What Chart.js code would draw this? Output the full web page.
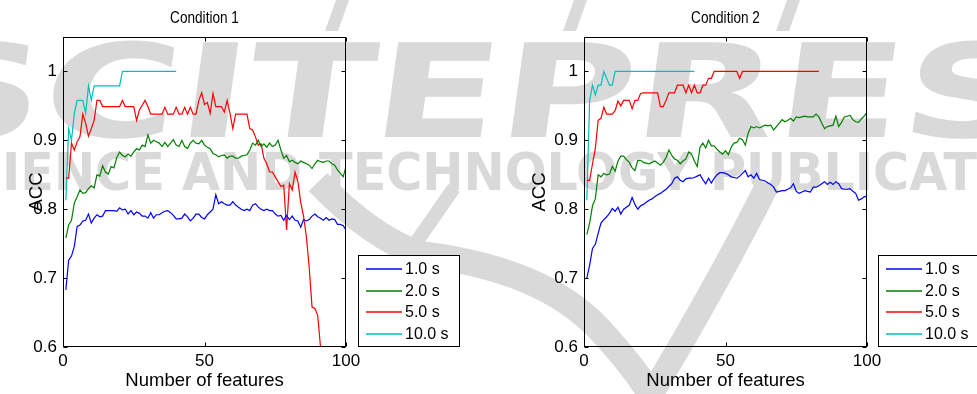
<!DOCTYPE html>
<html>
<head>
<meta charset="utf-8">
<script src="https://cdn.jsdelivr.net/npm/chart.js@4/dist/chart.umd.min.js"></script>
<style>
  html, body { margin: 0; padding: 0; background: #fff; }
  #wrap { position: relative; width: 977px; height: 394px; overflow: hidden; background: #fff; }
  canvas { position: absolute; top: 0; }
</style>
</head>
<body>
<div id="wrap">
  <canvas id="mark" width="977" height="394" style="left:0"></canvas>
  <canvas id="p1" width="520" height="394" style="left:0"></canvas>
  <canvas id="p2" width="456" height="394" style="left:521px"></canvas>
</div>
<script>
// Axis ticks
const xTicks = [0, 50, 100];
const yTicks = [0.6, 0.7, 0.8, 0.9, 1];

// Series names (window length)
const seriesLabels = ['1.0 s', '2.0 s', '5.0 s', '10.0 s'];

// Condition 1: accuracy for 1..N selected features
const cond1_1s = [
  .683,.726,.732,.746,.775,.777,.783,.784,.793,.780,
  .787,.792,.789,.790,.798,.798,.798,.798,.797,.802,
  .799,.800,.793,.798,.792,.796,.794,.790,.790,.787,
  .795,.787,.792,.792,.795,.797,.798,.795,.791,.786,
  .786,.787,.793,.789,.783,.787,.793,.793,.788,.786,
  .792,.796,.800,.821,.808,.811,.808,.806,.806,.811,
  .806,.803,.800,.798,.800,.798,.806,.808,.803,.800,
  .798,.800,.798,.798,.793,.790,.791,.784,.791,.785,
  .790,.784,.783,.774,.785,.783,.785,.790,.793,.789,
  .787,.784,.788,.784,.786,.785,.778,.778,.776,.770
];
const cond1_2s = [
  .758,.777,.784,.809,.818,.828,.823,.824,.830,.834,
  .831,.850,.848,.863,.854,.851,.862,.860,.875,.883,
  .878,.876,.880,.877,.883,.888,.886,.893,.891,.908,
  .896,.900,.898,.896,.891,.897,.891,.896,.901,.893,
  .891,.900,.891,.888,.896,.900,.896,.895,.900,.893,
  .890,.888,.881,.879,.876,.878,.879,.874,.877,.877,
  .874,.874,.877,.878,.879,.886,.896,.893,.900,.891,
  .895,.890,.896,.891,.893,.900,.886,.874,.878,.869,
  .871,.868,.866,.870,.868,.866,.864,.859,.866,.871,
  .869,.868,.870,.870,.866,.864,.857,.852,.847,.862
];
const cond1_5s = [
  .845,.845,.896,.886,.898,.905,.938,.925,.906,.917,
  .929,.958,.958,.949,.949,.949,.949,.949,.949,.949,
  .958,.949,.949,.949,.949,.929,.944,.951,.958,.949,
  .938,.938,.938,.938,.938,.948,.938,.938,.938,.948,
  .938,.938,.948,.938,.948,.938,.938,.958,.969,.952,
  .955,.939,.968,.949,.949,.949,.941,.958,.939,.917,
  .938,.938,.938,.938,.938,.917,.915,.905,.893,.895,
  .874,.866,.854,.854,.847,.840,.833,.835,.770,.837,
  .828,.854,.840,.810,.790,.760,.715,.658,.656,.646,
  .600,.560
];
const cond1_10s = [
  .813,.917,.900,.939,.958,.958,.958,.939,.979,.958,
  .979,.979,.979,.979,.979,.979,.979,.979,.979,.979,
  1,1,1,1,1,1,1,1,1,1,
  1,1,1,1,1,1,1,1,1,1
];

// Condition 2
const cond2_1s = [
  .700,.719,.743,.749,.765,.780,.785,.789,.794,.801,
  .797,.803,.793,.800,.803,.806,.817,.807,.800,.805,
  .807,.810,.813,.815,.818,.821,.823,.826,.829,.833,
  .837,.845,.847,.842,.840,.844,.845,.845,.846,.848,
  .850,.843,.837,.845,.838,.845,.850,.853,.853,.852,
  .850,.847,.846,.845,.848,.852,.856,.847,.850,.845,
  .852,.843,.842,.841,.838,.836,.832,.825,.826,.827,
  .827,.829,.831,.837,.826,.823,.825,.827,.826,.825,
  .832,.832,.834,.837,.840,.836,.839,.836,.840,.837,
  .830,.829,.829,.830,.826,.823,.813,.815,.818,.819
];
const cond2_2s = [
  .763,.780,.805,.815,.850,.847,.852,.850,.851,.862,
  .855,.870,.877,.877,.872,.868,.860,.856,.871,.871,
  .868,.867,.866,.868,.870,.867,.864,.868,.875,.886,
  .878,.873,.871,.866,.870,.873,.883,.880,.870,.862,
  .890,.896,.889,.900,.892,.892,.887,.883,.880,.885,
  .879,.890,.896,.897,.903,.901,.893,.910,.920,.918,
  .920,.918,.920,.922,.921,.922,.915,.920,.925,.930,
  .927,.929,.932,.928,.934,.933,.934,.935,.934,.934,
  .934,.938,.934,.925,.917,.920,.921,.922,.935,.920,
  .926,.934,.935,.936,.930,.927,.926,.931,.935,.941
];
const cond2_5s = [
  .842,.842,.866,.888,.929,.932,.948,.938,.938,.938,
  .943,.957,.950,.958,.958,.958,.946,.958,.958,.968,
  .969,.969,.969,.969,.969,.969,.949,.949,.958,.969,
  .969,.969,.980,.980,.980,.969,.980,.969,.980,.969,
  .969,.980,.980,.990,.990,1,1,1,1,1,
  1,1,1,1,.990,1,1,1,1,1,
  1,1,1,1,1,1,1,1,1,1,
  1,1,1,1,1,1,1,1,1,1,
  1,1,1
];
const cond2_10s = [
  .813,.958,.980,.966,.980,.980,1,.990,.980,.980,
  1,1,1,1,1,1,1,1,1,1,
  1,1,1,1,1,1,1,1,1,1,
  1,1,1,1,1,1,1,1,1
];

const lineColors = ['#0000ff', '#008000', '#ff0000', '#00bfbf'];
const FONT = '"Liberation Sans", Arial, Helvetica, sans-serif';

// light grey publisher mark behind both panels
function drawWatermark() {
  const g = document.getElementById('mark').getContext('2d');
  const grey = '#d9d9d9';
  g.fillStyle = grey;
  g.strokeStyle = grey;

  g.save();
  g.font = 'bold 130px "DejaVu Sans"';
  const big = 'SCITEPRESS';
  const bw = g.measureText(big).width;
  g.translate(-95, 137);
  g.transform(1250 / bw, 0, -0.14, 1, 0, 0);
  g.fillText(big, 0, 0);
  g.restore();

  g.save();
  g.font = 'bold 52px "DejaVu Sans"';
  const small = 'SCIENCE AND TECHNOLOGY PUBLICATIONS';
  const w0 = g.measureText('SC').width;
  const w1 = g.measureText('SCIENCE AND TECHNOLOGY PUBLICAT').width;
  const sx = (977 - 2) / (w1 - w0);
  g.translate(2 - w0 * sx, 190);
  g.scale(sx, 1);
  g.fillText(small, 0, 0);
  g.restore();

  // slanted strokes along the top edge
  [336, 574, 787].forEach(cx => {
    g.beginPath();
    g.moveTo(cx, 0); g.lineTo(cx + 13, 0);
    g.lineTo(cx + 2, 31); g.lineTo(cx - 11, 31);
    g.closePath();
    g.fill();
  });

  // swoosh
  g.lineCap = 'butt';
  g.lineJoin = 'round';
  g.lineWidth = 26;
  g.beginPath();
  g.moveTo(318, 182);
  g.quadraticCurveTo(372, 238, 420, 254);
  g.bezierCurveTo(500, 264, 560, 287, 600, 330);
  g.quadraticCurveTo(635, 368, 650, 394);
  g.stroke();
  g.lineWidth = 24;
  g.beginPath();
  g.moveTo(648, 400);
  g.quadraticCurveTo(720, 280, 768, 184);
  g.stroke();
  g.lineWidth = 14;
  g.beginPath();
  g.moveTo(408, 254);
  g.lineTo(454, 188);
  g.stroke();
}

const panelDecor = {
  id: 'panelDecor',
  afterDatasetsDraw(chart, args, o) {
    const ctx = chart.ctx;
    const a = chart.chartArea;
    const xs = chart.scales.x, ys = chart.scales.y;
    const L = Math.round(a.left) + 0.5, R = Math.round(a.right) - 0.5;
    const T = Math.round(a.top) + 0.5, B = Math.round(a.bottom) - 0.5;
    ctx.save();
    ctx.strokeStyle = '#000';
    ctx.lineWidth = 1;
    ctx.strokeRect(L, T, R - L, B - T);
    ctx.beginPath();
    xs.ticks.forEach(t => {
      const p = Math.round(xs.getPixelForValue(t.value)) + 0.5;
      ctx.moveTo(p, B); ctx.lineTo(p, B - 4);
      ctx.moveTo(p, T); ctx.lineTo(p, T + 4);
    });
    ys.ticks.forEach(t => {
      const p = Math.round(ys.getPixelForValue(t.value)) + 0.5;
      ctx.moveTo(L, p); ctx.lineTo(L + 4, p);
      ctx.moveTo(R, p); ctx.lineTo(R - 4, p);
    });
    ctx.stroke();

    // panel title
    ctx.fillStyle = '#000';
    ctx.font = '17px ' + FONT;
    ctx.textAlign = 'center';
    ctx.textBaseline = 'middle';
    ctx.save();
    ctx.translate((a.left + a.right) / 2, 18);
    ctx.scale(0.8, 1);
    ctx.fillText(o.title, 0, 0);
    ctx.restore();

    // legend box
    const [bx, by, bw, bh] = o.box;
    ctx.fillStyle = '#fff';
    ctx.fillRect(bx, by, bw, bh);
    ctx.strokeStyle = '#000';
    ctx.strokeRect(bx + 0.5, by + 0.5, bw - 1, bh - 1);
    ctx.font = '16px ' + FONT;
    ctx.textAlign = 'left';
    chart.data.datasets.forEach((ds, i) => {
      const cy = Math.round(by + 14 + i * 21.7);
      ctx.strokeStyle = ds.borderColor;
      ctx.lineWidth = 1.3;
      ctx.beginPath();
      ctx.moveTo(bx + 8, cy); ctx.lineTo(bx + 44, cy);
      ctx.stroke();
      ctx.fillStyle = '#000';
      ctx.fillText(ds.label, bx + 47, cy + 1);
    });
    ctx.restore();
  }
};

function makePanel(id, title, series, padRight, yTitlePad, box) {
  const datasets = series.map((arr, i) => ({
    label: seriesLabels[i],
    data: arr.map((v, k) => ({ x: k + 1, y: v })),
    borderColor: lineColors[i],
    borderWidth: 1.2,
    pointRadius: 0,
    fill: false,
    tension: 0
  }));
  return new Chart(document.getElementById(id), {
    type: 'line',
    data: { datasets },
    plugins: [panelDecor],
    options: {
      responsive: false,
      animation: false,
      events: [],
      layout: { padding: { left: 0, top: 37, right: padRight, bottom: 0 } },
      plugins: {
        legend: { display: false },
        tooltip: { enabled: false },
        panelDecor: { title, box }
      },
      scales: {
        x: {
          type: 'linear',
          min: 0, max: 100,
          afterBuildTicks: s => { s.ticks = xTicks.map(v => ({ value: v })); },
          afterFit: s => { s.height = 47; },
          grid: { display: false, drawTicks: false },
          border: { display: false },
          ticks: { color: '#000', font: { size: 17, family: FONT }, padding: 4, maxRotation: 0, callback: v => String(v) },
          title: { display: true, text: 'Number of features', color: '#000', font: { size: 18.5, family: FONT }, padding: { top: 0, bottom: 2 } }
        },
        y: {
          type: 'linear',
          min: 0.6, max: 1.05,
          afterBuildTicks: s => { s.ticks = yTicks.map(v => ({ value: v })); },
          afterFit: s => { s.width = 63; },
          grid: { display: false, drawTicks: false },
          border: { display: false },
          ticks: { color: '#000', font: { size: 17, family: FONT }, padding: 6, callback: v => String(v) },
          title: { display: true, text: 'ACC', color: '#000', font: { size: 18.5, family: FONT }, padding: { top: yTitlePad, bottom: 0 } }
        }
      }
    }
  });
}

drawWatermark();
makePanel('p1', 'Condition 1', [cond1_1s, cond1_2s, cond1_5s, cond1_10s], 520 - 346, 26, [358, 255, 102, 92]);
makePanel('p2', 'Condition 2', [cond2_1s, cond2_2s, cond2_5s, cond2_10s], 456 - 346, 8, [357, 255, 100, 92]);
</script>
</body>
</html>
